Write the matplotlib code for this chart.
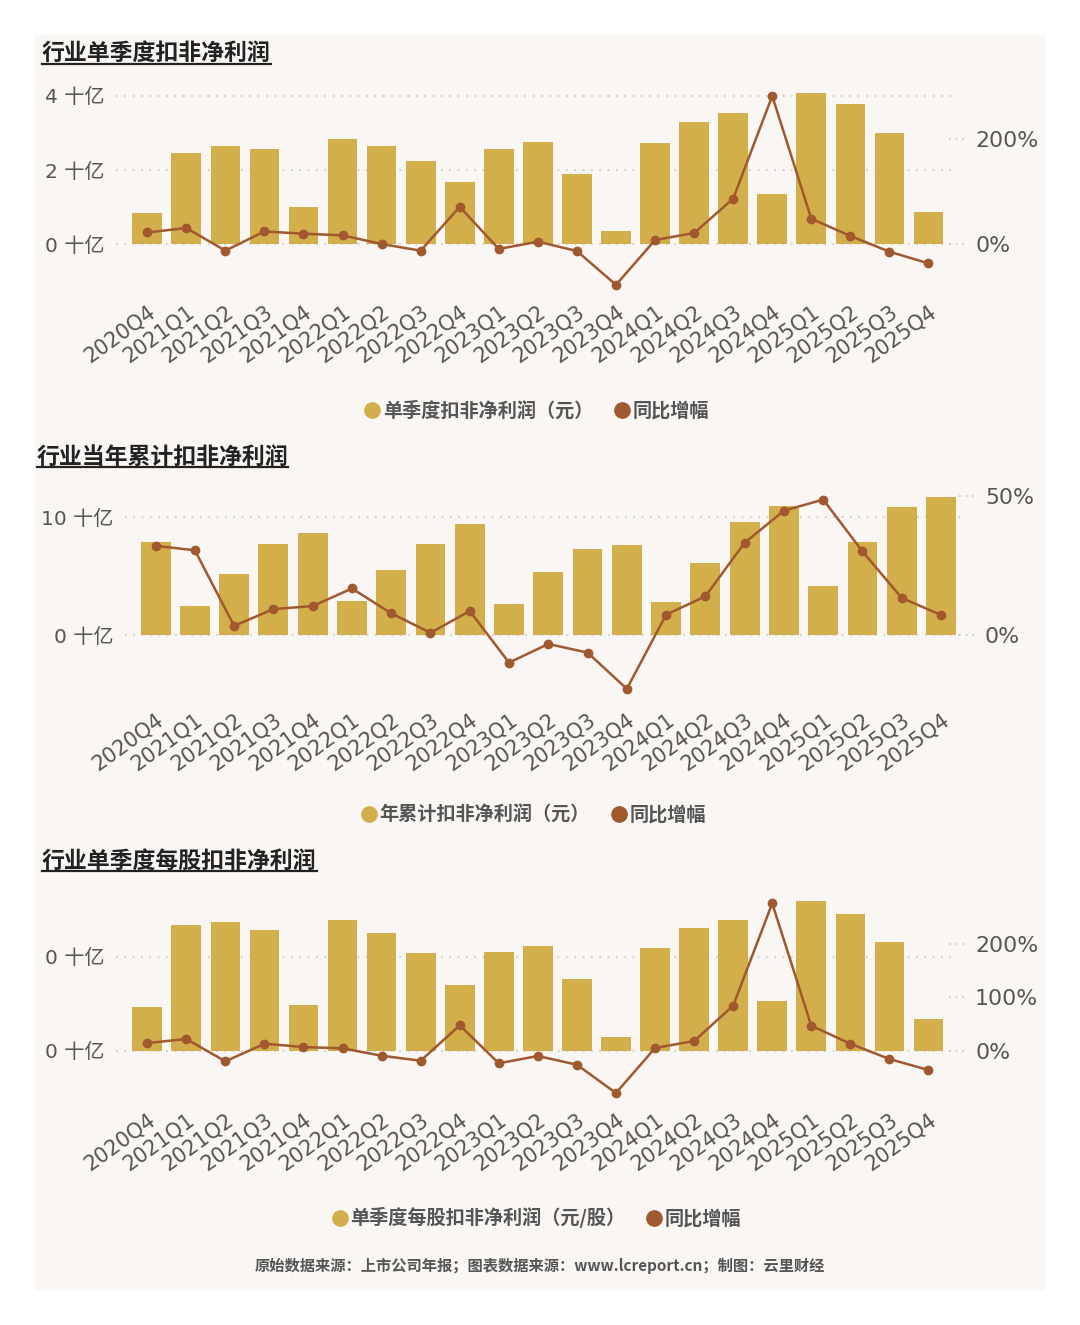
import matplotlib
matplotlib.use('Agg')
import matplotlib.pyplot as plt
from matplotlib.patches import Rectangle
from matplotlib.lines import Line2D
from matplotlib.ticker import FuncFormatter
from matplotlib.transforms import ScaledTranslation

plt.rcParams['font.family'] = ['DejaVu Sans', 'Noto Sans CJK SC']

# ---- data ----
quarters = ['2020Q4', '2021Q1', '2021Q2', '2021Q3', '2021Q4', '2022Q1', '2022Q2',
            '2022Q3', '2022Q4', '2023Q1', '2023Q2', '2023Q3', '2023Q4', '2024Q1',
            '2024Q2', '2024Q3', '2024Q4', '2025Q1', '2025Q2', '2025Q3', '2025Q4']

# 单季度扣非净利润 (十亿元)
profit_q = [0.83, 2.45, 2.66, 2.57, 0.99, 2.85, 2.66, 2.23, 1.67, 2.57, 2.76,
            1.89, 0.36, 2.73, 3.30, 3.54, 1.35, 4.07, 3.77, 2.99, 0.86]
yoy_q = [22, 30.6, -12.7, 24, 19.7, 16.6, 0, -12.7, 71, -9.5, 4.5,
         -13.4, -78, 7.6, 21, 86.6, 282.7, 48.4, 15.3, -14.6, -37]

# 当年累计扣非净利润 (十亿元)
profit_ytd = [7.88, 2.48, 5.14, 7.71, 8.64, 2.88, 5.54, 7.71, 9.41, 2.60, 5.34,
              7.26, 7.60, 2.80, 6.07, 9.60, 10.93, 4.15, 7.88, 10.85, 11.69]
yoy_ytd = [32.0, 30.4, 3.3, 9.3, 10.4, 16.7, 7.8, 0.8, 8.6, -9.9, -3.2,
           -6.3, -19.3, 7.3, 13.9, 33.1, 44.6, 48.6, 30.0, 13.3, 7.2]

# 单季度每股扣非净利润 (元/股)
eps_q = [0.0462, 0.1337, 0.1372, 0.1284, 0.0489, 0.1387, 0.1249, 0.1039, 0.0702,
         0.1050, 0.1114, 0.0763, 0.0149, 0.1096, 0.1305, 0.1390, 0.0532, 0.1589,
         0.1454, 0.1160, 0.0334]
yoy_eps = [14.4, 21.9, -19.9, 13.1, 6.9, 4.5, -9.4, -18.8, 47.6, -23.6, -9.9,
           -26.3, -79.4, 5.1, 18.2, 84.4, 276.5, 46.9, 13.1, -15.6, -36.2]

BAR = '#D3AF4B'
LINE = '#A0582E'
GRAY = '#555555'
GRID = '#C9C5C0'
BG = '#F9F6F3'

fig = plt.figure(figsize=(10.8, 13.25), dpi=100)
fig.patch.set_facecolor('white')
fig.add_artist(Rectangle((0.0324, 0.0264), 0.935, 0.9472, transform=fig.transFigure,
                         facecolor=BG, edgecolor='none', zorder=0))


def draw_panel(rect, xlim, bars, yoy, ylim, yticks, scale, y2lim, y2ticks):
    ax = fig.add_axes(rect)
    ax.set_facecolor('none')
    x = list(range(len(quarters)))
    ax.bar(x, bars, width=0.76, color=BAR, zorder=2)
    ax.set_xlim(*xlim)
    ax.set_ylim(*ylim)
    ax.set_yticks(yticks)
    ax.yaxis.set_major_formatter(FuncFormatter(lambda v, p: f'{v * scale:.0f} 十亿'))
    ax.grid(axis='y', linestyle=(0, (1, 4)), color=GRID, linewidth=1.2, zorder=1)
    ax.set_xticks(x)
    ax.set_xticklabels(quarters, rotation=36, ha='right', va='top',
                       rotation_mode='anchor', fontsize=15, color=GRAY)
    shift = ScaledTranslation(-6 / 100, 0, fig.dpi_scale_trans)
    for lab in ax.get_xticklabels():
        lab.set_transform(lab.get_transform() + shift)
    ax.tick_params(axis='x', length=0, pad=7)
    ax.tick_params(axis='y', length=0, pad=8, labelsize=14.5, labelcolor=GRAY)
    for s in ax.spines.values():
        s.set_visible(False)

    ax2 = ax.twinx()
    ax2.plot(x, yoy, color=LINE, linewidth=1.8, marker='o', markersize=6, zorder=3)
    ax2.set_ylim(*y2lim)
    ax2.set_yticks(y2ticks)
    ax2.yaxis.set_major_formatter(FuncFormatter(lambda v, p: f'{v:.0f}%'))
    ax2.tick_params(axis='y', length=0, pad=13, labelsize=15.8, labelcolor=GRAY)
    # short dotted tick marks in front of the right labels
    for v in y2ticks:
        ax2.plot([0.99, 1.008], [v, v], transform=ax2.get_yaxis_transform(),
                 linestyle=(0, (1, 3)), color=GRID, linewidth=1.2, clip_on=False)
    for s in ax2.spines.values():
        s.set_visible(False)
    return ax, ax2


def title(y, x, text):
    fig.text(x, y, text, fontsize=16.5, fontweight='bold', color='#222222',
             family=['Noto Sans CJK SC'], va='center', ha='left')


def legend(y, xc, label1):
    items = [(label1, BAR), ('同比增幅', LINE)]
    handles = [Line2D([], [], linestyle='none', marker='o', markersize=11,
                      markerfacecolor=c, markeredgecolor=c) for _, c in items]
    fig.legend(handles, [t for t, _ in items], loc='center', bbox_to_anchor=(xc, y),
               ncol=2, frameon=False, handlelength=0.8, handletextpad=0.15,
               columnspacing=1.1,
               prop={'family': ['Noto Sans CJK SC'], 'weight': 'bold', 'size': 13.8},
               labelcolor=GRAY)


# panel 1
draw_panel([0.1074, 0.7796, 0.7787, 0.154], (-0.8, 20.73), profit_q, yoy_q,
           (-1.297, 4.216), [0, 2, 4], 1, (-91.7, 298.0), [0, 200])
title(0.960, 0.039, '行业单季度扣非净利润')
legend(0.6898, 0.497, '单季度扣非净利润（元）')

# panel 2
draw_panel([0.1157, 0.4717, 0.7796, 0.160], (-0.78, 20.66), profit_ytd, yoy_ytd,
           (-5.51, 12.46), [0, 10], 1, (-23.3, 52.75), [0, 50])
title(0.6551, 0.034, '行业当年累计扣非净利润')
legend(0.3849, 0.494, '年累计扣非净利润（元）')

# panel 3
draw_panel([0.1074, 0.1698, 0.7787, 0.1547], (-0.8, 20.73), eps_q, yoy_eps,
           (-0.05245, 0.1656), [0, 0.1], 1e-9, (-92.5, 292.1), [0, 100, 200])
title(0.3502, 0.039, '行业单季度每股扣非净利润')
legend(0.0808, 0.497, '单季度每股扣非净利润（元/股）')

fig.text(0.5, 0.0445, '原始数据来源：上市公司年报；图表数据来源：www.lcreport.cn；制图：云里财经',
         ha='center', va='center', fontsize=11, fontweight='bold', color=GRAY,
         family=['Noto Sans CJK SC'])

# underline the titles
fig.canvas.draw()
r = fig.canvas.get_renderer()
for t in fig.texts:
    if t.get_fontsize() > 16:
        bb = t.get_window_extent(r)
        yb = bb.y0 + 1
        fig.add_artist(Line2D([bb.x0, bb.x1], [yb, yb], transform=None,
                              color='#222222', linewidth=1.6))

plt.savefig('out.png', dpi=100, facecolor='white')
